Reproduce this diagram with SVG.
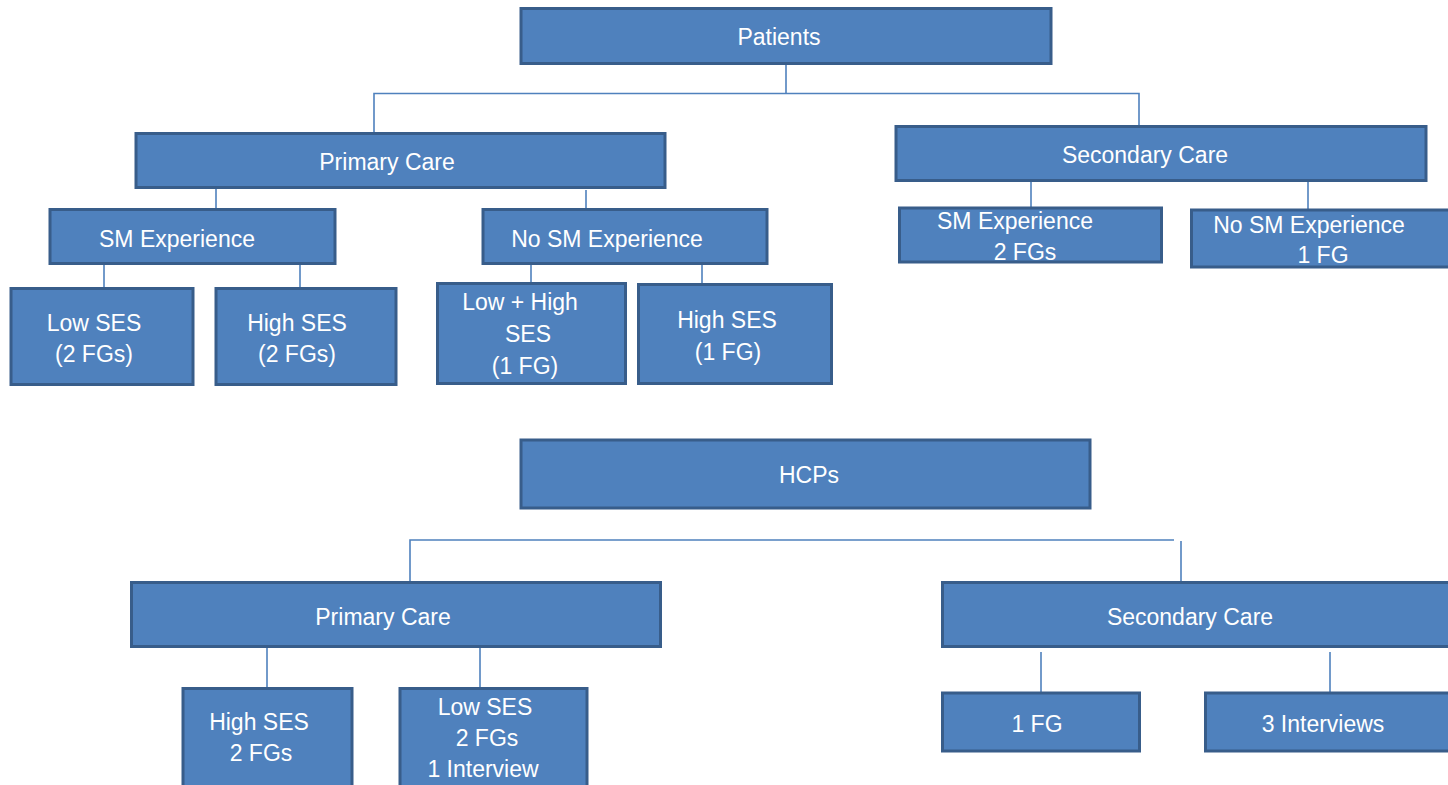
<svg xmlns="http://www.w3.org/2000/svg" width="1448" height="785" viewBox="0 0 1448 785">
<style>
.box{fill:#4F81BD;stroke:#385D8A;stroke-width:3}
.t{font-family:"Liberation Sans",Arial,sans-serif;font-size:23px;fill:#FFFFFF;text-anchor:middle}
.c{stroke:#4F81BD;stroke-width:1.6;fill:none}
</style>
<rect width="1448" height="785" fill="#FFFFFF"/>
<g id="connectors">
<polyline class="c" points="786,63 786,93.5"/>
<polyline class="c" points="374,133 374,93.5 1139,93.5 1139,127"/>
<line class="c" x1="216" y1="188" x2="216" y2="209"/>
<line class="c" x1="586" y1="190" x2="586" y2="209"/>
<line class="c" x1="104" y1="264" x2="104" y2="288"/>
<line class="c" x1="300" y1="264" x2="300" y2="288"/>
<line class="c" x1="531" y1="264" x2="531" y2="283"/>
<line class="c" x1="702" y1="264" x2="702" y2="284"/>
<line class="c" x1="1031" y1="181" x2="1031" y2="208"/>
<line class="c" x1="1308" y1="181" x2="1308" y2="209"/>
<polyline class="c" points="410,582 410,540 1174,540"/>
<line class="c" x1="1181" y1="541" x2="1181" y2="582"/>
<line class="c" x1="267" y1="647" x2="267" y2="688"/>
<line class="c" x1="480" y1="647" x2="480" y2="688"/>
<line class="c" x1="1041" y1="652" x2="1041" y2="692"/>
<line class="c" x1="1330" y1="652" x2="1330" y2="692"/>
</g>
<g id="patients"><rect class="box" x="521" y="8.5" width="530" height="55"/><text class="t" x="779" y="45">Patients</text></g>
<g id="p-primary"><rect class="box" x="136" y="133.5" width="529" height="54"/><text class="t" x="387" y="170">Primary Care</text></g>
<g id="p-secondary"><rect class="box" x="896" y="126.5" width="530" height="54"/><text class="t" x="1145" y="163">Secondary Care</text></g>
<g id="p-pc-sm"><rect class="box" x="50" y="209.5" width="285" height="54"/><text class="t" x="177" y="247">SM Experience</text></g>
<g id="p-pc-nosm"><rect class="box" x="483" y="209.5" width="284" height="54"/><text class="t" x="607" y="247">No SM Experience</text></g>
<g id="p-low-ses"><rect class="box" x="11" y="288.5" width="182" height="96"/><text class="t" x="94" y="331">Low SES</text><text class="t" x="94" y="362">(2 FGs)</text></g>
<g id="p-high-ses"><rect class="box" x="216" y="288.5" width="180" height="96"/><text class="t" x="297" y="331">High SES</text><text class="t" x="297" y="362">(2 FGs)</text></g>
<g id="p-lowhigh-ses"><rect class="box" x="437.5" y="283.5" width="188" height="100"/><text class="t" x="520" y="310">Low + High</text><text class="t" x="528" y="342">SES</text><text class="t" x="525" y="374">(1 FG)</text></g>
<g id="p-high-ses-1"><rect class="box" x="638.5" y="284.5" width="193" height="99"/><text class="t" x="727" y="328">High SES</text><text class="t" x="728" y="360">(1 FG)</text></g>
<g id="p-sc-sm"><rect class="box" x="899.5" y="208" width="262" height="54"/><text class="t" x="1015" y="229">SM Experience</text><text class="t" x="1025" y="260">2 FGs</text></g>
<g id="p-sc-nosm"><rect class="box" x="1191.5" y="210" width="270" height="57"/><text class="t" x="1309" y="233">No SM Experience</text><text class="t" x="1323" y="263">1 FG</text></g>
<g id="hcps"><rect class="box" x="521" y="440" width="569" height="68"/><text class="t" x="809" y="483">HCPs</text></g>
<g id="h-primary"><rect class="box" x="131.5" y="582.5" width="529" height="64"/><text class="t" x="383" y="625">Primary Care</text></g>
<g id="h-secondary"><rect class="box" x="942.5" y="582.5" width="530" height="64"/><text class="t" x="1190" y="625">Secondary Care</text></g>
<g id="h-high-ses"><rect class="box" x="183" y="688.5" width="169" height="110"/><text class="t" x="259" y="730">High SES</text><text class="t" x="261" y="761">2 FGs</text></g>
<g id="h-low-ses"><rect class="box" x="400" y="688.5" width="187" height="110"/><text class="t" x="485" y="715">Low SES</text><text class="t" x="487" y="746">2 FGs</text><text class="t" x="483" y="777">1 Interview</text></g>
<g id="h-1fg"><rect class="box" x="942.5" y="693" width="197" height="58"/><text class="t" x="1037" y="732">1 FG</text></g>
<g id="h-3int"><rect class="box" x="1205.5" y="693" width="270" height="58"/><text class="t" x="1323" y="732">3 Interviews</text></g>
</svg>
